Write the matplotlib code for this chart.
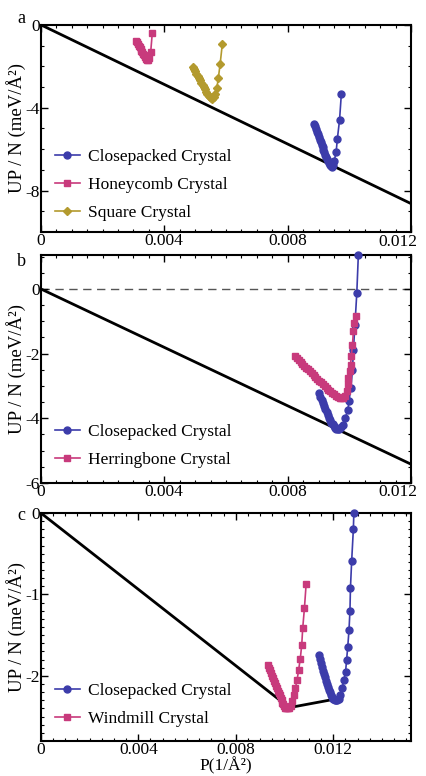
import matplotlib
matplotlib.use("Agg")
import matplotlib.pyplot as plt
import matplotlib.transforms as mtransforms
from matplotlib.ticker import MultipleLocator, FormatStrFormatter

plt.rcParams['font.family'] = ['Liberation Serif', 'DejaVu Serif']
plt.rcParams['axes.unicode_minus'] = False
plt.rcParams['mathtext.fontset'] = 'stix'

BLUE = '#3c3caa'
PINK = '#c83a7c'
GOLD = '#b39a2e'

# ---- panel a ----
a_cp_x = [0.00886, 0.00889, 0.00892, 0.00895, 0.00898, 0.00901, 0.00904, 0.00907, 0.00910,
          0.00913, 0.00916, 0.00919, 0.00922, 0.00925, 0.00928, 0.00931, 0.00934, 0.00937,
          0.00940, 0.00944, 0.00948, 0.00951, 0.00957, 0.00961, 0.00968, 0.00974]
a_cp_y = [-4.77, -4.90, -5.03, -5.16, -5.29, -5.42, -5.55, -5.67, -5.79,
          -5.91, -6.03, -6.15, -6.27, -6.38, -6.49, -6.59, -6.69, -6.77,
          -6.83, -6.84, -6.78, -6.55, -6.15, -5.50, -4.61, -3.32]
a_hc_x = [0.00308, 0.00311, 0.00314, 0.00317, 0.00320, 0.00323, 0.00326, 0.00329, 0.00332,
          0.00335, 0.00338, 0.00341, 0.00344, 0.00347, 0.00351, 0.00356, 0.00361]
a_hc_y = [-0.76, -0.84, -0.92, -1.00, -1.08, -1.16, -1.24, -1.32, -1.40,
          -1.48, -1.56, -1.63, -1.68, -1.70, -1.62, -1.30, -0.40]
a_sq_x = [0.00492, 0.00496, 0.00500, 0.00504, 0.00508, 0.00512, 0.00516, 0.00520, 0.00524,
          0.00528, 0.00532, 0.00536, 0.00540, 0.00544, 0.00548, 0.00552, 0.00556, 0.00560,
          0.00565, 0.00570, 0.00575, 0.00581, 0.00588]
a_sq_y = [-2.02, -2.13, -2.24, -2.35, -2.46, -2.57, -2.68, -2.79, -2.90,
          -3.01, -3.12, -3.23, -3.33, -3.42, -3.50, -3.55, -3.56, -3.50,
          -3.35, -3.07, -2.59, -1.89, -0.94]
a_hull_x = [0.0, 0.012]
a_hull_y = [0.0, -8.63]

# ---- panel b ----
b_cp_x = [0.00902, 0.00906, 0.00910, 0.00914, 0.00918, 0.00922, 0.00926, 0.00930, 0.00934,
          0.00938, 0.00942, 0.00946, 0.00950, 0.00954, 0.00958, 0.00962, 0.00966, 0.00970,
          0.00974, 0.00978, 0.00986, 0.00995, 0.00999, 0.01005, 0.01010, 0.01013, 0.01018,
          0.01024, 0.01029]
b_cp_y = [-3.23, -3.33, -3.43, -3.53, -3.63, -3.72, -3.81, -3.90, -3.98,
          -4.06, -4.13, -4.19, -4.25, -4.29, -4.32, -4.34, -4.34, -4.31,
          -4.26, -4.20, -4.00, -3.75, -3.45, -3.05, -2.50, -1.90, -1.10,
          -0.13, 1.05]
b_hb_x = [0.00824, 0.00830, 0.00836, 0.00842, 0.00848, 0.00854, 0.00860, 0.00866, 0.00872,
          0.00878, 0.00884, 0.00890, 0.00896, 0.00902, 0.00908, 0.00914, 0.00920, 0.00926,
          0.00932, 0.00938, 0.00944, 0.00950, 0.00956, 0.00962, 0.00968, 0.00974, 0.00980,
          0.00986, 0.00991, 0.00994, 0.00997, 0.01001, 0.01004, 0.01006, 0.01010, 0.01013,
          0.01016, 0.01020]
b_hb_y = [-2.08, -2.14, -2.20, -2.26, -2.32, -2.38, -2.43, -2.49, -2.55,
          -2.61, -2.66, -2.72, -2.78, -2.84, -2.89, -2.95, -3.00, -3.06,
          -3.11, -3.16, -3.21, -3.26, -3.30, -3.34, -3.37, -3.38, -3.38,
          -3.32, -3.16, -2.95, -2.75, -2.54, -2.34, -2.08, -1.72, -1.31,
          -1.05, -0.85]
b_hull_x = [0.0, 0.012]
b_hull_y = [0.0, -5.42]

# ---- panel c ----
c_cp_x = [0.01143, 0.01147, 0.01151, 0.01155, 0.01159, 0.01163, 0.01167, 0.01171, 0.01175,
          0.01179, 0.01183, 0.01187, 0.01191, 0.01195, 0.01199, 0.01203, 0.01207, 0.01211,
          0.01215, 0.01222, 0.01230, 0.01237, 0.01244, 0.01251, 0.01255, 0.01260, 0.01265,
          0.01269, 0.01271, 0.01276, 0.01283, 0.01285]
c_cp_y = [-1.74, -1.79, -1.84, -1.89, -1.94, -1.98, -2.02, -2.06, -2.10,
          -2.14, -2.17, -2.20, -2.23, -2.26, -2.28, -2.29, -2.30, -2.30,
          -2.30, -2.29, -2.24, -2.15, -2.05, -1.95, -1.81, -1.64, -1.44,
          -1.20, -0.92, -0.59, -0.196, 0.0]
c_wm_x = [0.00932, 0.00936, 0.00940, 0.00944, 0.00948, 0.00952, 0.00956, 0.00960, 0.00964,
          0.00968, 0.00972, 0.00976, 0.00980, 0.00984, 0.00988, 0.00992, 0.00996, 0.01000,
          0.01004, 0.01008, 0.01012, 0.01016, 0.01020, 0.01025, 0.01033, 0.01039, 0.01045,
          0.01052, 0.01058, 0.01065, 0.01071, 0.01075, 0.01082, 0.01089]
c_wm_y = [-1.87, -1.90, -1.93, -1.96, -2.00, -2.03, -2.06, -2.09, -2.12,
          -2.15, -2.18, -2.21, -2.24, -2.27, -2.30, -2.33, -2.35, -2.37,
          -2.39, -2.40, -2.40, -2.40, -2.39, -2.37, -2.31, -2.24, -2.15,
          -2.05, -1.93, -1.79, -1.62, -1.415, -1.17, -0.875]
c_hull_x = [0.0, 0.0102, 0.0120]
c_hull_y = [0.0, -2.39, -2.29]

YLABEL = 'UP / N (meV/Å²)'


def xfmt(v, xmax):
    if abs(v) < 1e-12:
        return '0'
    if abs(v - xmax) < 1e-9:
        return ''   # drawn separately, nudged inside the figure
    return f'{v:.3f}'


def style_axes(ax, xmax, ylim, ymaj, ymin_step):
    ax.set_xlim(0, xmax)
    ax.set_ylim(*ylim)
    ax.xaxis.set_major_locator(MultipleLocator(0.004))
    ax.xaxis.set_minor_locator(MultipleLocator(0.0005))
    ax.yaxis.set_major_locator(MultipleLocator(ymaj))
    ax.yaxis.set_minor_locator(MultipleLocator(ymin_step))
    ax.xaxis.set_major_formatter(plt.FuncFormatter(lambda v, p: xfmt(v, xmax)))
    ax.yaxis.set_major_formatter(FormatStrFormatter('%d'))
    ax.tick_params(which='both', direction='in', top=True, right=True, labelsize=12.5, pad=1)
    ax.tick_params(which='major', length=5, width=1)
    ax.tick_params(which='minor', length=2.5, width=0.8)
    for s in ax.spines.values():
        s.set_linewidth(1.5)
    ax.set_ylabel(YLABEL, fontsize=13.5, labelpad=-1)


def edge_label(ax, text):
    off = mtransforms.ScaledTranslation(6 / 100, -1.5 / 100, fig.dpi_scale_trans)
    ax.text(1.0, 0.0, text, transform=ax.transAxes + off, ha='right', va='top', fontsize=12.5)


def series(ax, x, y, color, marker, label, ms):
    ax.plot(x, y, color=color, marker=marker, ms=ms, lw=1.2, label=label, clip_on=False, zorder=3)


fig = plt.figure(figsize=(4.26, 7.76), dpi=100)
L, W = 0.096, 0.869
ax_a = fig.add_axes([L, 0.701, W, 0.267])
ax_b = fig.add_axes([L, 0.3776, W, 0.2938])
ax_c = fig.add_axes([L, 0.0451, W, 0.2938])

leg_kw = dict(loc='lower left', frameon=False, fontsize=12.5, handlelength=1.45,
              handletextpad=0.45, labelspacing=0.67, borderaxespad=0.3)

# panel a
ax_a.plot(a_hull_x, a_hull_y, color='black', lw=2, zorder=2)
series(ax_a, a_cp_x, a_cp_y, BLUE, 'o', 'Closepacked Crystal', 5)
series(ax_a, a_hc_x, a_hc_y, PINK, 's', 'Honeycomb Crystal', 4.5)
series(ax_a, a_sq_x, a_sq_y, GOLD, 'D', 'Square Crystal', 4.5)
style_axes(ax_a, 0.012, (-10, 0), 4, 1)
ax_a.legend(bbox_to_anchor=(0.005, -0.004), **leg_kw)
edge_label(ax_a, '0.012')

# panel b
ax_b.axhline(0, color='#555555', lw=1, ls=(0, (6, 4)), zorder=1)
ax_b.plot(b_hull_x, b_hull_y, color='black', lw=2, zorder=2)
series(ax_b, b_cp_x, b_cp_y, BLUE, 'o', 'Closepacked Crystal', 5)
series(ax_b, b_hb_x, b_hb_y, PINK, 's', 'Herringbone Crystal', 4.5)
style_axes(ax_b, 0.012, (-6, 1.05), 2, 0.5)
ax_b.legend(bbox_to_anchor=(0.005, 0.012), **leg_kw)
edge_label(ax_b, '0.012')

# panel c
ax_c.plot(c_hull_x, c_hull_y, color='black', lw=2, zorder=2)
series(ax_c, c_cp_x, c_cp_y, BLUE, 'o', 'Closepacked Crystal', 5)
series(ax_c, c_wm_x, c_wm_y, PINK, 's', 'Windmill Crystal', 4.5)
style_axes(ax_c, 0.0152, (-2.8, 0), 1, 0.1)
ax_c.set_xlabel('P(1/Å²)', fontsize=12.5, labelpad=-1)
ax_c.legend(bbox_to_anchor=(0.005, 0.008), **leg_kw)

fig.text(0.05, 0.976, 'a', fontsize=13, ha='center', va='center')
fig.text(0.05, 0.663, 'b', fontsize=13, ha='center', va='center')
fig.text(0.05, 0.336, 'c', fontsize=13, ha='center', va='center')

fig.savefig('out.png', dpi=100)
